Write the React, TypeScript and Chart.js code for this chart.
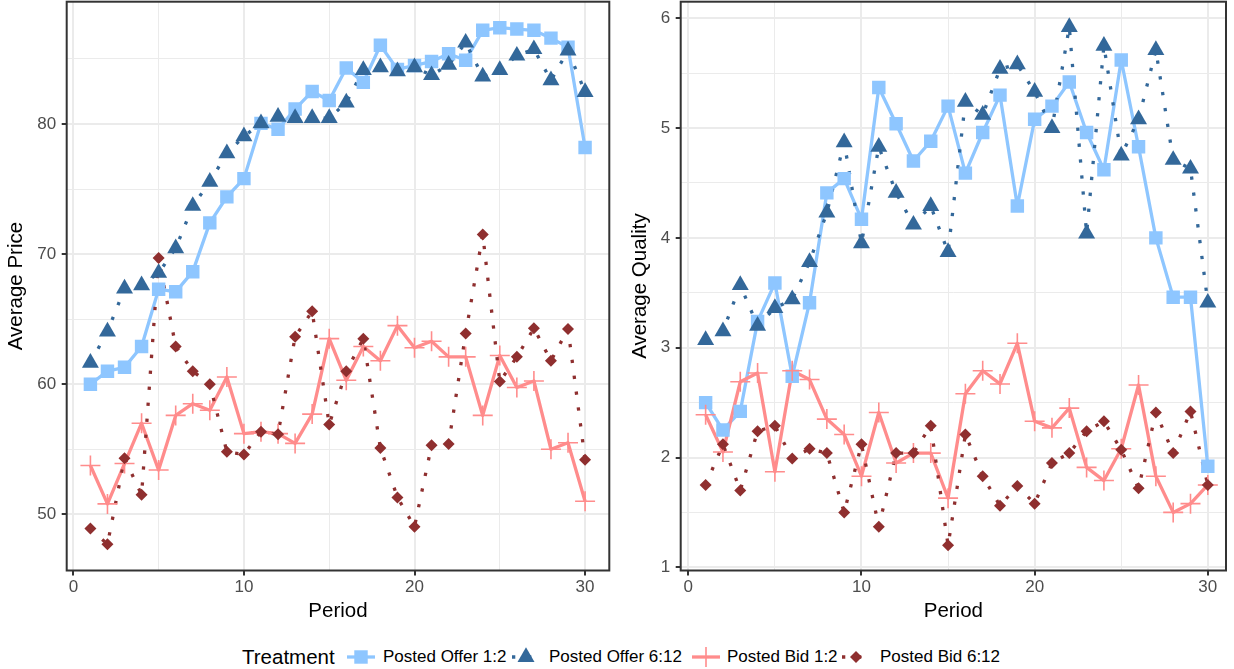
import React, { useEffect, useRef } from 'react';
import { Chart, registerables } from 'chart.js';

Chart.register(...registerables);

// ---------- data ----------
const periods = [1, 2, 3, 4, 5, 6, 7, 8, 9, 10, 11, 12, 13, 14, 15, 16, 17, 18, 19, 20, 21, 22, 23, 24, 25, 26, 27, 28, 29, 30];
const treatments = ['Posted Offer 1:2', 'Posted Offer 6:12', 'Posted Bid 1:2', 'Posted Bid 6:12'];

const pricePostedOffer12 = [60.0, 61.0, 61.3, 62.9, 67.3, 67.1, 68.65, 72.4, 74.4, 75.8, 80.05, 79.6, 81.15, 82.5, 81.8, 84.3, 83.2, 86.05, 84.2, 84.5, 84.8, 85.4, 84.9, 87.2, 87.4, 87.3, 87.2, 86.6, 85.9, 78.2];
const pricePostedOffer612 = [61.65, 64.05, 67.35, 67.6, 68.55, 70.45, 73.7, 75.55, 77.75, 79.05, 80.05, 80.55, 80.45, 80.45, 80.45, 81.65, 84.15, 84.35, 84.05, 84.35, 83.75, 84.55, 86.25, 83.65, 84.15, 85.25, 85.75, 83.35, 85.65, 82.45];
const pricePostedBid12 = [53.75, 50.8, 53.9, 57.0, 53.4, 57.6, 58.5, 58.0, 60.55, 56.2, 56.35, 56.2, 55.45, 57.7, 63.5, 60.3, 62.9, 61.8, 64.5, 62.8, 63.3, 62.1, 62.1, 57.6, 62.2, 59.75, 60.25, 55.0, 55.5, 51.0];
const pricePostedBid612 = [48.9, 47.7, 54.3, 51.5, 69.7, 62.9, 61.0, 60.0, 54.8, 54.6, 56.35, 56.15, 63.65, 65.6, 56.9, 61.0, 63.5, 55.1, 51.3, 49.05, 55.3, 55.4, 63.9, 71.5, 60.2, 62.1, 64.3, 61.8, 64.25, 54.2];

const qualityPostedOffer12 = [2.50, 2.25, 2.42, 3.24, 3.59, 2.74, 3.41, 4.41, 4.54, 4.17, 5.37, 5.04, 4.70, 4.88, 5.20, 4.59, 4.96, 5.30, 4.29, 5.08, 5.20, 5.42, 4.96, 4.62, 5.62, 4.83, 4.00, 3.46, 3.46, 1.92];
const qualityPostedOffer612 = [3.07, 3.15, 3.57, 3.20, 3.36, 3.44, 3.78, 4.23, 4.87, 3.95, 4.83, 4.41, 4.12, 4.29, 3.87, 5.24, 5.12, 5.54, 5.58, 5.33, 5.00, 5.92, 4.04, 5.75, 4.75, 5.08, 5.71, 4.71, 4.63, 3.41];
const qualityPostedBid12 = [2.39, 2.05, 2.69, 2.77, 1.87, 2.79, 2.71, 2.35, 2.21, 1.83, 2.41, 1.95, 2.04, 2.04, 1.63, 2.58, 2.79, 2.67, 3.04, 2.33, 2.27, 2.45, 1.91, 1.79, 2.08, 2.66, 1.83, 1.50, 1.58, 1.75];
const qualityPostedBid612 = [1.75, 2.12, 1.70, 2.24, 2.29, 1.99, 2.08, 2.04, 1.50, 2.12, 1.37, 2.04, 2.04, 2.29, 1.20, 2.21, 1.83, 1.56, 1.74, 1.58, 1.95, 2.04, 2.24, 2.33, 2.07, 1.72, 2.41, 2.04, 2.42, 1.75];

const periodTicksMajor = [0, 10, 20, 30];
const periodTicksMinor = [5, 15, 25];
const priceTicksMajor = [50, 60, 70, 80];
const priceTicksMinor = [55, 65, 75, 85];
const qualityTicksMajor = [1, 2, 3, 4, 5, 6];
const qualityTicksMinor = [1.5, 2.5, 3.5, 4.5, 5.5];

// ---------- styles ----------
const FONT = "'Liberation Sans', Arial, Helvetica, sans-serif";
const DOT_DASH = [3.3, 12.7];
const SERIES_STYLE = [
  { color: '#8EC6FF', point: 'rect', radius: 9.5, dash: [] as number[] },
  { color: '#33689A', point: 'triangle', radius: 9.8, dash: DOT_DASH },
  { color: '#FF8C8C', point: 'cross', radius: 10, dash: [] as number[] },
  { color: '#8F2F2F', point: 'rectRot', radius: 6, dash: DOT_DASH },
];
const CANVAS_H = 630;

const panelBorder = {
  id: 'panelBorder',
  afterDraw(chart: any) {
    const { ctx, chartArea } = chart;
    ctx.save();
    ctx.strokeStyle = '#333333';
    ctx.lineWidth = 2;
    ctx.strokeRect(chartArea.left, chartArea.top, chartArea.right - chartArea.left, chartArea.bottom - chartArea.top);
    ctx.restore();
  },
};

function zeroPad(s: any) {
  s.paddingTop = 0;
  s.paddingBottom = 0;
  s.paddingLeft = 0;
  s.paddingRight = 0;
}

function axisGrid(major: number[]) {
  const isMajor = (ctx: any) => ctx.tick && major.includes(ctx.tick.value);
  return {
    color: '#EBEBEB',
    lineWidth: (ctx: any) => (isMajor(ctx) ? 2 : 1),
    tickColor: (ctx: any) => (isMajor(ctx) ? '#333333' : 'rgba(0,0,0,0)'),
    tickWidth: 2,
    tickLength: 5,
    drawTicks: true,
  };
}

function buildConfig(spec: any) {
  const datasets: any[] = [];
  // points (drawn on top): reverse order so later treatments sit above earlier ones
  for (let i = 3; i >= 0; i--) {
    const st = SERIES_STYLE[i];
    datasets.push({
      label: treatments[i],
      data: periods.map((p, k) => ({ x: p, y: spec.series[i][k] })),
      showLine: false,
      pointStyle: st.point,
      pointRadius: st.radius,
      pointHoverRadius: st.radius,
      pointBackgroundColor: st.color,
      pointBorderColor: st.color,
      pointBorderWidth: st.point === 'cross' ? 1.6 : 0,
    });
  }
  // lines (drawn below all points)
  for (let i = 3; i >= 0; i--) {
    const st = SERIES_STYLE[i];
    datasets.push({
      label: treatments[i] + ' line',
      data: periods.map((p, k) => ({ x: p, y: spec.series[i][k] })),
      showLine: true,
      pointRadius: 0,
      pointHoverRadius: 0,
      borderColor: st.color,
      borderWidth: 3.3,
      borderDash: st.dash,
      borderCapStyle: 'butt',
      borderJoinStyle: 'round',
      tension: 0,
      fill: false,
    });
  }

  const xTicks = [...periodTicksMajor, ...periodTicksMinor].sort((a, b) => a - b);
  const yTicks = [...spec.yMajor, ...spec.yMinor].sort((a: number, b: number) => a - b);

  return {
    type: 'scatter',
    data: { datasets },
    plugins: [panelBorder],
    options: {
      animation: false,
      responsive: false,
      maintainAspectRatio: false,
      events: [],
      layout: { autoPadding: false, padding: { left: 0, top: 1.7, right: spec.padRight, bottom: 0 } },
      plugins: { legend: { display: false }, tooltip: { enabled: false } },
      scales: {
        x: {
          type: 'linear',
          min: spec.xMin,
          max: spec.xMax,
          afterBuildTicks: (s: any) => {
            s.ticks = xTicks.map((v) => ({ value: v }));
          },
          afterFit: (s: any) => {
            s.height = CANVAS_H - 570.5;
            zeroPad(s);
          },
          grid: axisGrid(periodTicksMajor),
          border: { display: false },
          ticks: {
            autoSkip: false,
            maxRotation: 0,
            minRotation: 0,
            padding: 2,
            color: '#4D4D4D',
            font: { family: FONT, size: 17 },
            callback: (v: any) => (periodTicksMajor.includes(v) ? String(v) : ''),
          },
          title: {
            display: true,
            text: 'Period',
            color: '#000000',
            font: { family: FONT, size: 20.5 },
            padding: { top: 0, bottom: 6.7 },
          },
        },
        y: {
          type: 'linear',
          min: spec.yMin,
          max: spec.yMax,
          afterBuildTicks: (s: any) => {
            s.ticks = yTicks.map((v: number) => ({ value: v }));
          },
          afterFit: (s: any) => {
            s.width = spec.yWidth;
            zeroPad(s);
          },
          grid: axisGrid(spec.yMajor),
          border: { display: false },
          ticks: {
            autoSkip: false,
            padding: 5.5,
            color: '#4D4D4D',
            font: { family: FONT, size: 17 },
            callback: (v: any) => (spec.yMajor.includes(v) ? String(v) : ''),
          },
          title: {
            display: true,
            text: spec.yTitle,
            color: '#000000',
            font: { family: FONT, size: 20.5 },
            padding: { top: spec.yTitlePad, bottom: 0 },
          },
        },
      },
    },
  };
}

const priceSpec = {
  series: [pricePostedOffer12, pricePostedOffer612, pricePostedBid12, pricePostedBid612],
  yMajor: priceTicksMajor,
  yMinor: priceTicksMinor,
  yMin: 45.68,
  yMax: 89.4,
  xMin: -0.39,
  xMax: 31.42,
  yWidth: 66.7,
  padRight: 620 - 609.3,
  yTitle: 'Average Price',
  yTitlePad: 4.2,
};

const qualitySpec = {
  series: [qualityPostedOffer12, qualityPostedOffer612, qualityPostedBid12, qualityPostedBid612],
  yMajor: qualityTicksMajor,
  yMinor: qualityTicksMinor,
  yMin: 0.971,
  yMax: 6.151,
  xMin: -0.44,
  xMax: 31.05,
  yWidth: 60.7,
  padRight: 8,
  yTitle: 'Average Quality',
  yTitlePad: 7.7,
};

function Panel({ spec, left, width }: { spec: any; left: number; width: number }) {
  const ref = useRef<HTMLCanvasElement>(null);
  useEffect(() => {
    const chart = new Chart(ref.current as HTMLCanvasElement, buildConfig(spec) as any);
    return () => chart.destroy();
  }, [spec]);
  return (
    <canvas
      ref={ref}
      width={width}
      height={CANVAS_H}
      style={{ position: 'absolute', left, top: 0, width, height: CANVAS_H }}
    />
  );
}

function KeySymbol({ i }: { i: number }) {
  const st = SERIES_STYLE[i];
  const w = 28;
  const h = 24;
  const cx = w / 2;
  const cy = h / 2;
  let marker: any = null;
  if (st.point === 'rect') {
    const s = st.radius * Math.SQRT1_2;
    marker = <rect x={cx - s} y={cy - s} width={2 * s} height={2 * s} fill={st.color} />;
  } else if (st.point === 'triangle') {
    const r = st.radius;
    const pts = `${cx},${cy - r} ${cx + 0.866 * r},${cy + 0.5 * r} ${cx - 0.866 * r},${cy + 0.5 * r}`;
    marker = <polygon points={pts} fill={st.color} />;
  } else if (st.point === 'cross') {
    const r = st.radius;
    marker = (
      <g stroke={st.color} strokeWidth={1.6}>
        <line x1={cx - r} y1={cy} x2={cx + r} y2={cy} />
        <line x1={cx} y1={cy - r} x2={cx} y2={cy + r} />
      </g>
    );
  } else {
    const r = st.radius;
    const pts = `${cx - r},${cy} ${cx},${cy - r} ${cx + r},${cy} ${cx},${cy + r}`;
    marker = <polygon points={pts} fill={st.color} />;
  }
  return (
    <svg width={w} height={h} style={{ display: 'block', overflow: 'visible' }}>
      <line
        x1={0}
        y1={cy}
        x2={w}
        y2={cy}
        stroke={st.color}
        strokeWidth={3.3}
        strokeDasharray={st.dash.length ? st.dash.join(' ') : undefined}
      />
      {marker}
    </svg>
  );
}

const legendKeyCenters = [361, 526, 706, 856];
const legendLabelLefts = [383, 549, 727, 880];

function Legend() {
  const cy = 657;
  return (
    <>
      <div
        style={{
          position: 'absolute',
          left: 242,
          top: cy - 12,
          height: 24,
          lineHeight: '24px',
          fontFamily: FONT,
          fontSize: 20.5,
          color: '#000',
          whiteSpace: 'nowrap',
        }}
      >
        Treatment
      </div>
      {treatments.map((t, i) => (
        <React.Fragment key={t}>
          <div style={{ position: 'absolute', left: legendKeyCenters[i] - 14, top: cy - 12 }}>
            <KeySymbol i={i} />
          </div>
          <div
            style={{
              position: 'absolute',
              left: legendLabelLefts[i],
              top: cy - 10,
              height: 20,
              lineHeight: '20px',
              fontFamily: FONT,
              fontSize: 17,
              color: '#000',
              whiteSpace: 'nowrap',
            }}
          >
            {t}
          </div>
        </React.Fragment>
      ))}
    </>
  );
}

export default function App() {
  return (
    <div
      style={{
        position: 'fixed',
        left: 0,
        top: 0,
        width: 1234,
        height: 669,
        background: '#ffffff',
        overflow: 'hidden',
      }}
    >
      <Panel spec={priceSpec} left={0} width={620} />
      <Panel spec={qualitySpec} left={620} width={614} />
      <Legend />
    </div>
  );
}
